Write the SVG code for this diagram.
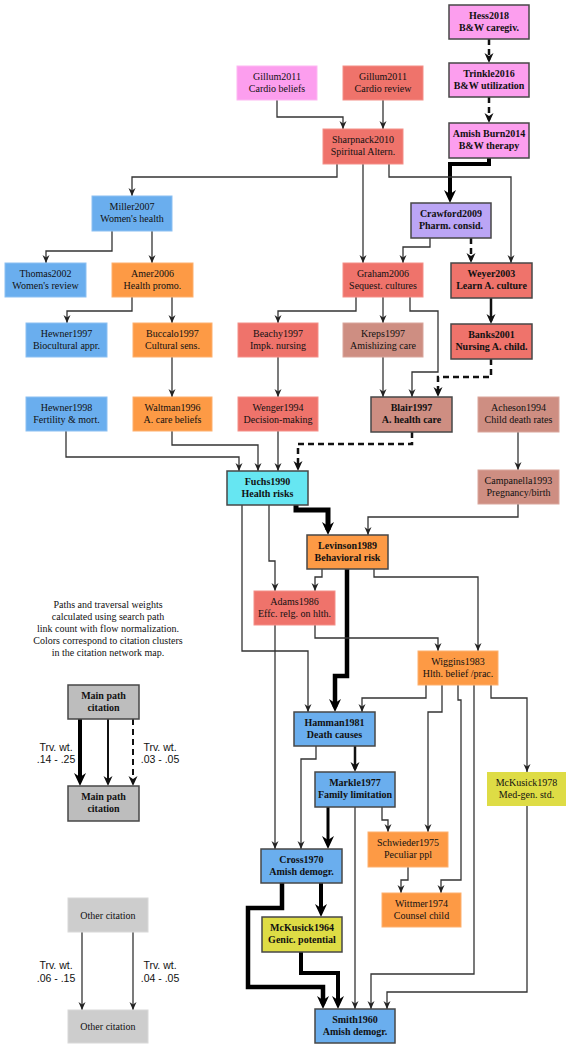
<svg xmlns="http://www.w3.org/2000/svg" width="572" height="1050" viewBox="0 0 572 1050">
<style>
.n text{font-family:"Liberation Serif","Times New Roman",serif;font-size:10px;fill:#111;text-anchor:middle}
.n rect{stroke-width:1}
.m rect{stroke:#474747;stroke-width:1.5}
.m text{font-weight:bold}
.pk{fill:#FC9EEE;stroke:#FDB8F2}
.sa{fill:#EF736B;stroke:#F48F88}
.bl{fill:#6AAEEE;stroke:#8CC0F2}
.or{fill:#FD9A45;stroke:#FDB06E}
.ro{fill:#CE8E82;stroke:#D9A69C}
.pu{fill:#BBA5F5}
.cy{fill:#66E6F2}
.ye{fill:#DEDC45}
.g1{fill:#BDBDBD}
.g2{fill:#CDCDCD;stroke:#D8D8D8}
.c1{fill:none;stroke:#333;stroke-width:1.3;marker-end:url(#a1)}
.c2{fill:none;stroke:#111;stroke-width:2.5;marker-end:url(#a2)}
.c3{fill:none;stroke:#000;stroke-width:4;marker-end:url(#a3)}
.d{stroke-dasharray:6 4}
.lg{font-family:"Liberation Serif","Times New Roman",serif;font-size:10px;fill:#111;text-anchor:middle}
.sl{font-family:"Liberation Sans",Arial,sans-serif;font-size:10.5px;fill:#111;text-anchor:middle}
</style>
<defs>
<marker id="a1" markerUnits="userSpaceOnUse" markerWidth="9" markerHeight="8" refX="8" refY="3.5" orient="auto"><path d="M0,0 L8,3.5 L0,7 L2.5,3.5 z" fill="#222"/></marker>
<marker id="a2" markerUnits="userSpaceOnUse" markerWidth="11" markerHeight="10" refX="7" refY="4.5" orient="auto"><path d="M0,0 L10,4.5 L0,9 L3,4.5 z" fill="#111"/></marker>
<marker id="a3" markerUnits="userSpaceOnUse" markerWidth="14" markerHeight="13" refX="8" refY="6" orient="auto"><path d="M0,0 L13,6 L0,12 L4,6 z" fill="#000"/></marker>
</defs>
<rect width="572" height="1050" fill="#fff"/>

<g id="connectors">
<path class="c2 d" d="M489,39 V60"/>
<path class="c2 d" d="M489,97 V120"/>
<path class="c1" d="M277,100 V117 H343 V129"/>
<path class="c1" d="M383,100 V129"/>
<path class="c3" d="M489,158 V164 H450 V198"/>
<path class="c1" d="M337,164 V177 H132 V196"/>
<path class="c1" d="M363,164 V263"/>
<path class="c1" d="M389,164 V177 H511 V263"/>
<path class="c1" d="M430,238 V247 H403 V263"/>
<path class="c2 d" d="M471,238 V260"/>
<path class="c1" d="M112,231 V251 H46 V263"/>
<path class="c1" d="M152,231 V263"/>
<path class="c1" d="M132,297 V311 H67 V323"/>
<path class="c1" d="M172,297 V323"/>
<path class="c1" d="M356,297 V311 H278 V323"/>
<path class="c1" d="M383,297 V323"/>
<path class="c1" d="M410,297 V311 H438 V372 H412 V397"/>
<path class="c2" d="M491,298 V321"/>
<path class="c1" d="M172,357 V397"/>
<path class="c1" d="M278,357 V397"/>
<path class="c1" d="M383,357 V397"/>
<path class="c2 d" d="M491,359 V377 H438 V394"/>
<path class="c1" d="M66,431 V457 H239 V471"/>
<path class="c1" d="M172,431 V445 H258 V471"/>
<path class="c1" d="M278,431 V471"/>
<path class="c2 d" d="M412,432 V444 H298 V468"/>
<path class="c1" d="M518,432 V470"/>
<path class="c3" style="stroke-width:5" d="M296,505 V510 H328 V530"/>
<path class="c1" d="M518,504 V517 H368 V535"/>
<path class="c1" d="M242,505 V651 H308 V712"/>
<path class="c1" d="M269,505 V561 H275 V591"/>
<path class="c1" d="M322,569 V577 H315 V591"/>
<path class="c3" style="stroke-width:4.5" d="M347,569 V676 H335 V707"/>
<path class="c1" d="M374,569 V577 H478 V651"/>
<path class="c1" d="M315,625 V638 H438 V651"/>
<path class="c1" d="M275,625 V849"/>
<path class="c1" d="M426,685 V698 H362 V712"/>
<path class="c1" d="M442,685 V712 H428 V832"/>
<path class="c1" d="M458,685 V700 H461 V880 H441 V893"/>
<path class="c1" d="M474,685 V974 H371 V1009"/>
<path class="c1" d="M491,685 V698 H527 V772"/>
<path class="c2" d="M355,746 V769"/>
<path class="c1" d="M316,746 V759 H301 V849"/>
<path class="c3" style="stroke-width:3" d="M328,807 V844"/>
<path class="c1" d="M355,807 V1009"/>
<path class="c1" d="M382,807 V820 H388 V832"/>
<path class="c1" d="M527,806 V992 H387 V1009"/>
<path class="c1" d="M408,867 V880 H401 V893"/>
<path class="c3" d="M321,883 V912"/>
<path class="c3" style="stroke-width:4.5" d="M282,883 V908 H248 V987 H323 V1004"/>
<path class="c3" d="M301,952 V973 H338 V1004"/>
<path class="c3" d="M80,719 V781"/>
<path class="c2" style="stroke-width:2" d="M108,719 V783"/>
<path class="c2 d" style="stroke-width:2" d="M133,719 V783"/>
<path class="c1" d="M82,932 V1010"/>
<path class="c1" d="M133,932 V1010"/>
</g>

<g id="hess" class="n m"><rect class="pk" x="449" y="5" width="80" height="34"/><text x="489" y="18.5">Hess2018</text><text x="489" y="30.5">B&amp;W caregiv.</text></g>
<g id="trinkle" class="n m"><rect class="pk" x="449" y="63" width="80" height="34"/><text x="489" y="76.5">Trinkle2016</text><text x="489" y="88.5">B&amp;W utilization</text></g>
<g id="amishburn" class="n m"><rect class="pk" x="449" y="123" width="80" height="35"/><text x="489" y="137">Amish Burn2014</text><text x="489" y="149">B&amp;W therapy</text></g>
<g id="gillum-beliefs" class="n"><rect class="pk" x="237" y="66" width="80" height="34"/><text x="277" y="79.5">Gillum2011</text><text x="277" y="91.5">Cardio beliefs</text></g>
<g id="gillum-review" class="n"><rect class="sa" x="343" y="66" width="80" height="34"/><text x="383" y="79.5">Gillum2011</text><text x="383" y="91.5">Cardio review</text></g>
<g id="sharpnack" class="n"><rect class="sa" x="323" y="129" width="80" height="35"/><text x="363" y="143">Sharpnack2010</text><text x="363" y="155">Spiritual Altern.</text></g>
<g id="miller" class="n"><rect class="bl" x="92" y="196" width="80" height="35"/><text x="132" y="210">Miller2007</text><text x="132" y="222">Women's health</text></g>
<g id="crawford" class="n m"><rect class="pu" x="411" y="203" width="80" height="35"/><text x="451" y="217">Crawford2009</text><text x="451" y="229">Pharm. consid.</text></g>
<g id="thomas" class="n"><rect class="bl" x="5" y="263" width="81" height="34"/><text x="45.5" y="276.5">Thomas2002</text><text x="45.5" y="288.5">Women's review</text></g>
<g id="amer" class="n"><rect class="or" x="112" y="263" width="81" height="34"/><text x="152.5" y="276.5">Amer2006</text><text x="152.5" y="288.5">Health promo.</text></g>
<g id="graham" class="n"><rect class="sa" x="343" y="263" width="80" height="34"/><text x="383" y="276.5">Graham2006</text><text x="383" y="288.5">Sequest. cultures</text></g>
<g id="weyer" class="n m"><rect class="sa" x="451" y="263" width="81" height="35"/><text x="491.5" y="277">Weyer2003</text><text x="491.5" y="289">Learn A. culture</text></g>
<g id="hewner1997" class="n"><rect class="bl" x="26" y="323" width="81" height="34"/><text x="66.5" y="336.5">Hewner1997</text><text x="66.5" y="348.5">Biocultural appr.</text></g>
<g id="buccalo" class="n"><rect class="or" x="133" y="323" width="79" height="34"/><text x="172.5" y="336.5">Buccalo1997</text><text x="172.5" y="348.5">Cultural sens.</text></g>
<g id="beachy" class="n"><rect class="sa" x="238" y="323" width="80" height="34"/><text x="278" y="336.5">Beachy1997</text><text x="278" y="348.5">Impk. nursing</text></g>
<g id="kreps" class="n"><rect class="ro" x="343" y="323" width="80" height="34"/><text x="383" y="336.5">Kreps1997</text><text x="383" y="348.5">Amishizing care</text></g>
<g id="banks" class="n m"><rect class="sa" x="451" y="324" width="81" height="35"/><text x="491.5" y="338">Banks2001</text><text x="491.5" y="350">Nursing A. child.</text></g>
<g id="hewner1998" class="n"><rect class="bl" x="26" y="397" width="81" height="34"/><text x="66.5" y="410.5">Hewner1998</text><text x="66.5" y="422.5">Fertility &amp; mort.</text></g>
<g id="waltman" class="n"><rect class="or" x="133" y="397" width="79" height="34"/><text x="172.5" y="410.5">Waltman1996</text><text x="172.5" y="422.5">A. care beliefs</text></g>
<g id="wenger" class="n"><rect class="sa" x="238" y="397" width="80" height="34"/><text x="278" y="410.5">Wenger1994</text><text x="278" y="422.5">Decision-making</text></g>
<g id="blair" class="n m"><rect class="ro" x="371" y="397" width="81" height="35"/><text x="411.5" y="411">Blair1997</text><text x="411.5" y="423">A. health care</text></g>
<g id="acheson" class="n"><rect class="ro" x="478" y="397" width="81" height="35"/><text x="518.5" y="411">Acheson1994</text><text x="518.5" y="423">Child death rates</text></g>
<g id="fuchs" class="n m"><rect class="cy" x="227" y="471" width="81" height="34"/><text x="267.5" y="484.5">Fuchs1990</text><text x="267.5" y="496.5">Health risks</text></g>
<g id="campanella" class="n"><rect class="ro" x="478" y="470" width="81" height="34"/><text x="518.5" y="483.5">Campanella1993</text><text x="518.5" y="495.5">Pregnancy/birth</text></g>
<g id="levinson" class="n m"><rect class="or" x="307" y="535" width="81" height="34"/><text x="347.5" y="548.5">Levinson1989</text><text x="347.5" y="560.5">Behavioral risk</text></g>
<g id="adams" class="n"><rect class="sa" x="254" y="591" width="81" height="34"/><text x="294.5" y="604.5">Adams1986</text><text x="294.5" y="616.5">Effc. relg. on hlth.</text></g>
<g id="wiggins" class="n"><rect class="or" x="418" y="651" width="80" height="34"/><text x="458" y="664.5">Wiggins1983</text><text x="458" y="676.5">Hlth. belief /prac.</text></g>
<g id="hamman" class="n m"><rect class="bl" x="294" y="712" width="81" height="34"/><text x="334.5" y="725.5">Hamman1981</text><text x="334.5" y="737.5">Death causes</text></g>
<g id="markle" class="n m"><rect class="bl" x="315" y="772" width="80" height="35"/><text x="355" y="786">Markle1977</text><text x="355" y="798">Family limitation</text></g>
<g id="mckusick1978" class="n"><rect class="ye" x="487" y="772" width="79" height="34"/><text x="526.5" y="785.5">McKusick1978</text><text x="526.5" y="797.5">Med-gen. std.</text></g>
<g id="schwieder" class="n"><rect class="or" x="368" y="832" width="80" height="35"/><text x="408" y="846">Schwieder1975</text><text x="408" y="858">Peculiar ppl</text></g>
<g id="cross" class="n m"><rect class="bl" x="261" y="849" width="81" height="34"/><text x="301.5" y="862.5">Cross1970</text><text x="301.5" y="874.5">Amish demogr.</text></g>
<g id="wittmer" class="n"><rect class="or" x="382" y="893" width="79" height="34"/><text x="421.5" y="906.5">Wittmer1974</text><text x="421.5" y="918.5">Counsel child</text></g>
<g id="mckusick1964" class="n m"><rect class="ye" x="262" y="917" width="80" height="35"/><text x="302" y="931">McKusick1964</text><text x="302" y="943">Genic. potential</text></g>
<g id="smith" class="n m"><rect class="bl" x="315" y="1009" width="80" height="34"/><text x="355" y="1022.5">Smith1960</text><text x="355" y="1034.5">Amish demogr.</text></g>

<g id="legend">
<text class="lg" x="108" y="608">Paths and traversal weights</text>
<text class="lg" x="108" y="620">calculated using search path</text>
<text class="lg" x="108" y="632">link count with flow normalization.</text>
<text class="lg" x="108" y="644">Colors correspond to citation clusters</text>
<text class="lg" x="108" y="656">in the citation network map.</text>
<g id="legend-main-top" class="n m"><rect class="g1" x="68" y="685" width="71" height="34"/><text x="103.5" y="699">Main path</text><text x="103.5" y="711">citation</text></g>
<g id="legend-main-bottom" class="n m"><rect class="g1" x="68" y="786" width="71" height="35"/><text x="103.5" y="800">Main path</text><text x="103.5" y="812">citation</text></g>
<text class="sl" x="56" y="750.5">Trv. wt.</text>
<text class="sl" x="56" y="763">.14 - .25</text>
<text class="sl" x="160" y="750.5">Trv. wt.</text>
<text class="sl" x="160" y="763">.03 - .05</text>
<g id="legend-other-top" class="n"><rect class="g2" x="68" y="898" width="80" height="34"/><text x="108" y="918.5">Other citation</text></g>
<g id="legend-other-bottom" class="n"><rect class="g2" x="68" y="1010" width="80" height="33"/><text x="108" y="1030">Other citation</text></g>
<text class="sl" x="56" y="968.5">Trv. wt.</text>
<text class="sl" x="56" y="982">.06 - .15</text>
<text class="sl" x="160" y="968.5">Trv. wt.</text>
<text class="sl" x="160" y="982">.04 - .05</text>
</g>
</svg>
